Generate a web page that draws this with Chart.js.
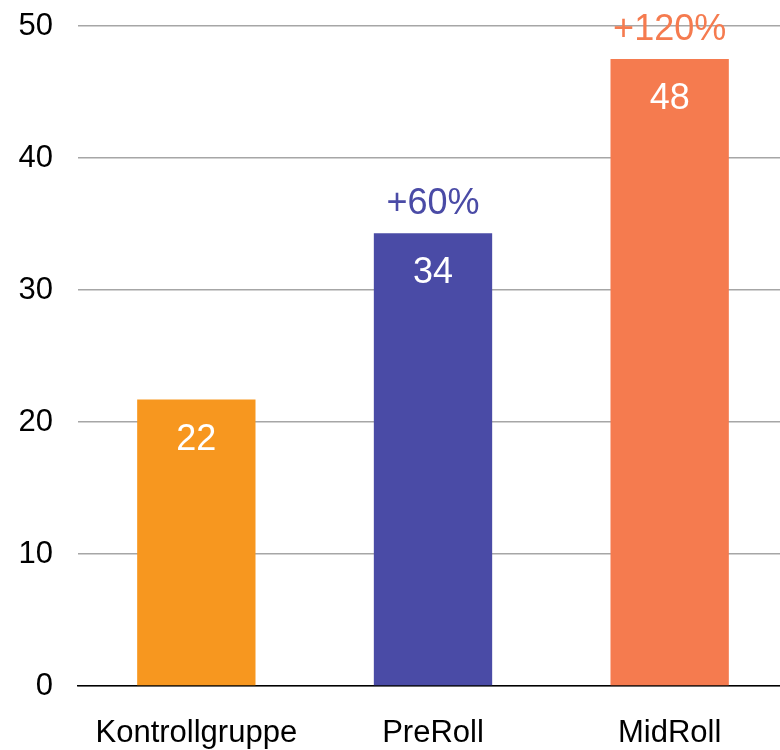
<!DOCTYPE html>
<html>
<head>
<meta charset="utf-8">
<script src="https://cdn.jsdelivr.net/npm/chart.js@4"></script>
<style>
  html, body { margin: 0; padding: 0; overflow: hidden; background: #fff; }
</style>
</head>
<body>
<canvas id="barChart" width="788" height="750"></canvas>
<script>
// categories and values
const categories = ['Kontrollgruppe', 'PreRoll', 'MidRoll'];
const values = [21.7, 34.3, 47.5];
const valueLabels = ['22', '34', '48'];
const upliftLabels = ['', '+60%', '+120%'];
const barColors = ['#f7971f', '#4a4ba6', '#f57b4f'];
const yTicks = [0, 10, 20, 30, 40, 50];

const FONT = '"Liberation Sans", Arial, sans-serif';

// ! labels in and above the bars
const barLabels = {
    id: 'barLabels',
    afterDatasetsDraw(chart) {
        const ctx = chart.ctx;
        const meta = chart.getDatasetMeta(0);
        ctx.save();
        ctx.font = '36px ' + FONT;
        ctx.textAlign = 'center';
        ctx.textBaseline = 'alphabetic';
        meta.data.forEach((bar, i) => {
            ctx.fillStyle = '#ffffff';
            ctx.fillText(valueLabels[i], bar.x, bar.y + 50);
            if (upliftLabels[i]) {
                ctx.fillStyle = barColors[i];
                ctx.fillText(upliftLabels[i], bar.x, bar.y - 19);
            }
        });
        ctx.restore();
    }
};

const barChart = document.getElementById('barChart').getContext('2d');
const bChart = new Chart(barChart, {
    type: 'bar',
    data: {
        labels: categories,
        datasets: [{
            data: values,
            backgroundColor: barColors,
            borderWidth: 0,
            categoryPercentage: 1,
            barPercentage: 0.5
        }]
    },
    options: {
        responsive: false,
        animation: false,
        devicePixelRatio: 1,
        layout: { padding: { top: 26, left: 0, right: 0, bottom: 0 } },
        plugins: {
            legend: { display: false },
            tooltip: { enabled: false }
        },
        scales: {
            x: {
                afterFit(scale) {
                    scale.paddingLeft = 0;
                    scale.paddingRight = 0;
                    scale.height = 64;
                },
                grid: { display: false, drawTicks: false },
                border: { display: true, color: '#000000', width: 1.5 },
                ticks: { color: '#000000', font: { family: FONT, size: 31 }, padding: 29 }
            },
            y: {
                min: 0,
                max: 50,
                afterBuildTicks(scale) {
                    scale.ticks = yTicks.map(v => ({ value: v }));
                },
                afterFit(scale) {
                    scale.paddingTop = 0;
                    scale.paddingBottom = 0;
                    scale.width = 78;
                },
                grid: { color: '#a6a6a6', lineWidth: 1.5, drawTicks: false },
                border: { display: false },
                ticks: { color: '#000000', font: { family: FONT, size: 31 }, padding: 25 }
            }
        }
    },
    plugins: [barLabels]
});
</script>
</body>
</html>
